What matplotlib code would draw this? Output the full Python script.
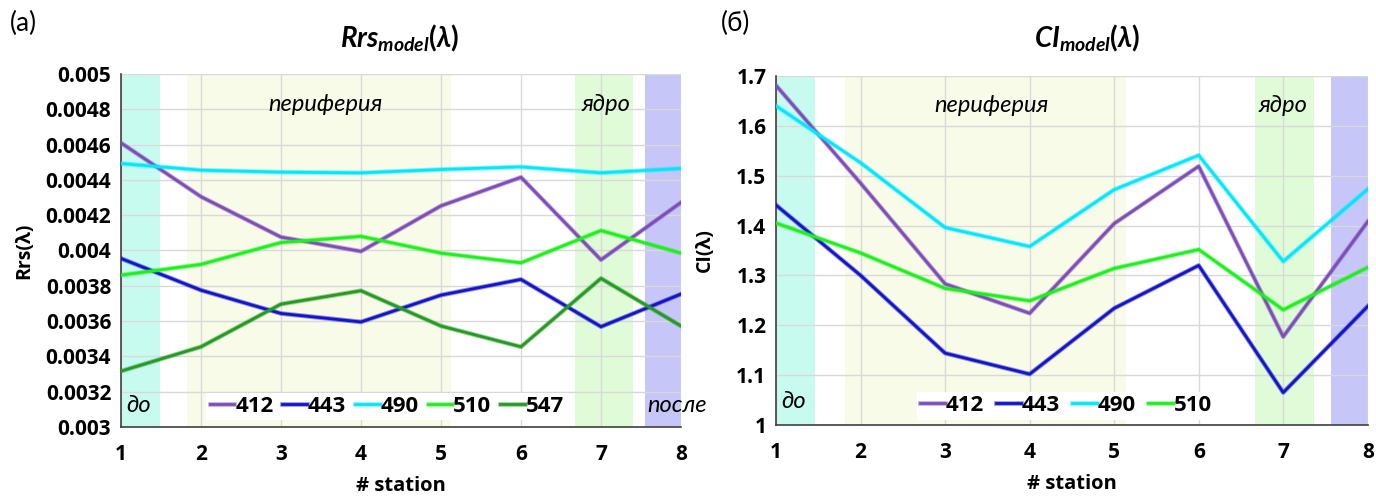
import matplotlib
matplotlib.use("Agg")
import matplotlib.pyplot as plt
import matplotlib.patheffects as pe
from matplotlib.ticker import FormatStrFormatter, MultipleLocator

plt.rcParams['font.family'] = ['Lato', 'DejaVu Sans']
plt.rcParams['mathtext.fontset'] = 'custom'
plt.rcParams['mathtext.it'] = 'Lato:italic:bold'
plt.rcParams['mathtext.rm'] = 'Lato:bold'

stations = [1, 2, 3, 4, 5, 6, 7, 8]

# Rrs_model(lambda)
rrs_412 = [0.00461, 0.004305, 0.004076, 0.003995, 0.004253, 0.004415, 0.003947, 0.004272]
rrs_443 = [0.003955, 0.003775, 0.003643, 0.003595, 0.003747, 0.003836, 0.003568, 0.003753]
rrs_490 = [0.004493, 0.004455, 0.004444, 0.00444, 0.004459, 0.004474, 0.00444, 0.004465]
rrs_510 = [0.00386, 0.003921, 0.004045, 0.00408, 0.003985, 0.00393, 0.004113, 0.003985]
rrs_547 = [0.003316, 0.003454, 0.003696, 0.003772, 0.003572, 0.003454, 0.003842, 0.003572]

# CI_model(lambda)
ci_412 = [1.681, 1.485, 1.283, 1.224, 1.404, 1.519, 1.177, 1.408]
ci_443 = [1.441, 1.300, 1.144, 1.102, 1.234, 1.320, 1.065, 1.238]
ci_490 = [1.640, 1.526, 1.396, 1.358, 1.472, 1.541, 1.328, 1.473]
ci_510 = [1.405, 1.345, 1.274, 1.249, 1.314, 1.352, 1.231, 1.316]

colors = {'412': '#7d4db8', '443': '#1414c8', '490': '#00e8ff',
          '510': '#1ef01e', '547': '#259a25'}

BOLD = {'family': 'Open Sans', 'weight': 'bold'}


def shade(ax, bands):
    for x0, x1, c in bands:
        ax.axvspan(x0, x1, color=c, lw=0, zorder=0)


def draw_lines(ax, series):
    for name, vals in series:
        c = colors[name]
        ax.plot(stations, vals, color=c, lw=2.0, label=name, zorder=3,
                path_effects=[pe.Stroke(linewidth=3.4, foreground=c, alpha=0.45),
                              pe.Normal()])


def style(ax, ylab, ylab_x):
    ax.set_xlim(1, 8)
    ax.set_xticks(stations)
    ax.grid(True, color='#d9d9d9', lw=1.0, zorder=1)
    ax.set_axisbelow(True)
    for s in ['top', 'right']:
        ax.spines[s].set_visible(False)
    for s in ['left', 'bottom']:
        ax.spines[s].set_color('#404040')
        ax.spines[s].set_linewidth(1.2)
    ax.tick_params(length=0, labelsize=15, pad=7)
    for lab in ax.get_xticklabels() + ax.get_yticklabels():
        lab.set_fontfamily('Open Sans')
        lab.set_fontweight('bold')
    ax.tick_params(axis='x', pad=12)
    ax.set_xlabel('# station', fontsize=14.5, labelpad=8, **BOLD)
    ax.set_ylabel(ylab, fontsize=14, **BOLD)
    ax.yaxis.set_label_coords(ylab_x, 0.5)


fig = plt.figure(figsize=(13.76, 4.97), dpi=100)

# left panel
ax1 = fig.add_axes([0.0879, 0.141, 0.407, 0.710])
shade(ax1, [(1, 1.49, '#c8fbf0'), (1.82, 5.13, '#f8fbe8'),
            (6.67, 7.40, '#e0fbd8'), (7.55, 8, '#c6c6f8')])
draw_lines(ax1, [('412', rrs_412), ('443', rrs_443), ('490', rrs_490),
                 ('510', rrs_510), ('547', rrs_547)])
ax1.set_ylim(0.003, 0.005)
ax1.yaxis.set_major_locator(MultipleLocator(0.0002))
ax1.yaxis.set_major_formatter(FormatStrFormatter('%g'))
style(ax1, 'Rrs(λ)', -0.154)
ax1.text(3.55, 0.00483, 'периферия', style='italic', fontsize=17, ha='center', va='center')
ax1.text(7.06, 0.00483, 'ядро', style='italic', fontsize=17, ha='center', va='center')
ax1.text(1.07, 0.00312, 'до', style='italic', fontsize=17, ha='left', va='center')
ax1.text(7.58, 0.00312, 'после', style='italic', fontsize=17, ha='left', va='center',
         clip_on=False)
leg1 = ax1.legend(loc='center', bbox_to_anchor=(0.475, 0.058), ncol=5, frameon=True,
                  fancybox=False, edgecolor='none', framealpha=1,
                  prop={'family': 'Open Sans', 'weight': 'bold', 'size': 16},
                  handlelength=1.1, handletextpad=0.05, columnspacing=0.4,
                  borderpad=0.15)
leg1.set_zorder(4)
fig.text(0.007, 0.952, '(a)', fontsize=19, va='center')
fig.text(0.29, 0.922, r'$Rrs_{model}(\lambda)$', fontsize=20, ha='center', va='center')

# right panel
ax2 = fig.add_axes([0.564, 0.145, 0.430, 0.702])
shade(ax2, [(1, 1.46, '#c8fbf0'), (1.82, 5.14, '#f8fbe8'),
            (6.67, 7.36, '#e0fbd8'), (7.56, 8, '#c6c6f8')])
draw_lines(ax2, [('412', ci_412), ('443', ci_443), ('490', ci_490), ('510', ci_510)])
ax2.set_ylim(1.0, 1.7)
ax2.yaxis.set_major_locator(MultipleLocator(0.1))
ax2.yaxis.set_major_formatter(FormatStrFormatter('%g'))
style(ax2, 'CI(λ)', -0.103)
ax2.text(3.55, 1.641, 'периферия', style='italic', fontsize=17, ha='center', va='center')
ax2.text(6.99, 1.641, 'ядро', style='italic', fontsize=17, ha='center', va='center')
ax2.text(1.06, 1.047, 'до', style='italic', fontsize=17, ha='left', va='center')
leg2 = ax2.legend(loc='center', bbox_to_anchor=(0.49, 0.055), ncol=4, frameon=True,
                  fancybox=False, edgecolor='none', framealpha=1,
                  prop={'family': 'Open Sans', 'weight': 'bold', 'size': 16},
                  handlelength=1.1, handletextpad=0.05, columnspacing=0.55,
                  borderpad=0.15)
leg2.set_zorder(4)
fig.text(0.524, 0.952, '(б)', fontsize=19, va='center')
fig.text(0.79, 0.922, r'$CI_{model}(\lambda)$', fontsize=20, ha='center', va='center')

fig.savefig('out.png', dpi=100)
